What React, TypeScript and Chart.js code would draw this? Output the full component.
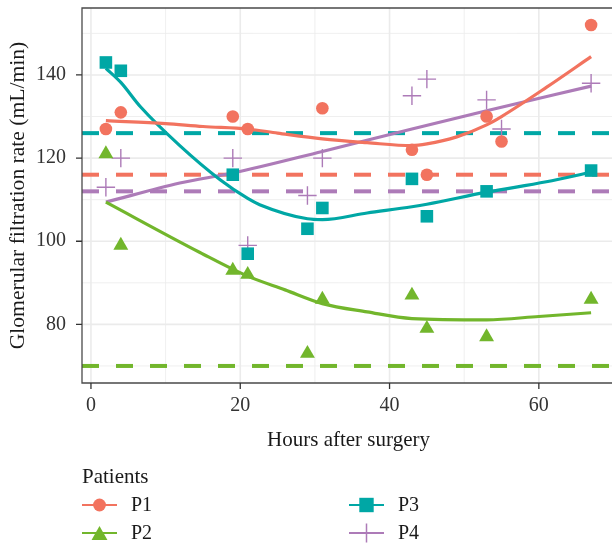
import React, { useEffect, useRef } from 'react';
import { Chart, registerables } from 'chart.js';

Chart.register(...registerables);

// ---------- data ----------
const patients = ['P1', 'P2', 'P3', 'P4'];
const colors = ['#F2735F', '#72B62C', '#00A7A5', '#AD7BB8'];
const markerStyles = ['circle', 'triangle', 'rect', 'cross'];

const hoursP1 = [2, 4, 19, 21, 31, 43, 45, 53, 55, 67];
const gfrP1 = [127, 131, 130, 127, 132, 122, 116, 130, 124, 152];
const hoursP2 = [2, 4, 19, 21, 29, 31, 43, 45, 53, 67];
const gfrP2 = [121, 99, 93, 92, 73, 86, 87, 79, 77, 86];
const hoursP3 = [2, 4, 19, 21, 29, 31, 43, 45, 53, 67];
const gfrP3 = [143, 141, 116, 97, 103, 108, 115, 106, 112, 117];
const hoursP4 = [2, 4, 19, 21, 29, 31, 43, 45, 53, 55, 67];
const gfrP4 = [113, 120, 120, 99, 111, 120, 135, 139, 134, 127, 138];

// fitted (smoothed) curves
const fitHoursP1 = [2, 10, 15, 21, 25, 31, 37, 43, 45, 49, 53, 55, 61, 67];
const fitGfrP1 = [129.0, 128.3, 127.6, 127.0, 126.0, 124.6, 123.7, 123.0, 123.4, 125.1, 128.0, 130.0, 137.0, 144.4];
const fitHoursP2 = [2, 14.6, 21, 26, 31, 37, 43, 53, 60, 67];
const fitGfrP2 = [109.4, 97.3, 91.6, 88.3, 85.0, 83.0, 81.4, 81.1, 81.9, 82.8];
const fitHoursP3 = [2, 4, 6.6, 11.9, 17.3, 21, 22.6, 29, 31, 37, 43, 45, 53, 61, 67];
const fitGfrP3 = [141.6, 138.2, 132.4, 123.0, 114.8, 110.3, 108.8, 105.4, 105.2, 106.8, 108.3, 108.9, 111.8, 114.3, 116.6];
const fitHoursP4 = [2, 11.9, 19, 31, 43, 53, 67];
const fitGfrP4 = [109.4, 114.0, 116.4, 121.6, 127.0, 131.4, 137.3];

// reference (baseline) levels per patient
const baselineGfr = [116, 70, 126, 112];

const xTicks = [0, 20, 40, 60];
const xMinorTicks = [10, 30, 50, 70];
const yTicks = [80, 100, 120, 140];
const yMinorTicks = [70, 90, 110, 130, 150];
const xTitle = 'Hours after surgery';
const yTitle = 'Glomerular filtration rate (mL/min)';
const legendTitle = 'Patients';

const X_MIN = -1.2;
const X_MAX = 69.8;
const Y_MIN = 65.9;
const Y_MAX = 156.1;

const FONT = '"Liberation Serif", "DejaVu Serif", serif';

const pointsByPatient = [
  [hoursP1, gfrP1],
  [hoursP2, gfrP2],
  [hoursP3, gfrP3],
  [hoursP4, gfrP4],
];
const fitsByPatient = [
  [fitHoursP1, fitGfrP1],
  [fitHoursP2, fitGfrP2],
  [fitHoursP3, fitGfrP3],
  [fitHoursP4, fitGfrP4],
];

const zip = (xs: number[], ys: number[]) => xs.map((x, i) => ({ x, y: ys[i] }));

function drawMarker(ctx: CanvasRenderingContext2D, style: string, x: number, y: number, color: string) {
  ctx.save();
  ctx.fillStyle = color;
  ctx.strokeStyle = color;
  if (style === 'circle') {
    ctx.beginPath();
    ctx.arc(x, y, 6.4, 0, Math.PI * 2);
    ctx.fill();
  } else if (style === 'triangle') {
    const r = 9.2;
    ctx.beginPath();
    ctx.moveTo(x, y - r * 0.75);
    ctx.lineTo(x + r * Math.sin((2 * Math.PI) / 3), y + r * 0.75);
    ctx.lineTo(x - r * Math.sin((2 * Math.PI) / 3), y + r * 0.75);
    ctx.closePath();
    ctx.fill();
  } else if (style === 'rect') {
    const s = 7.2;
    ctx.fillRect(x - s, y - s, 2 * s, 2 * s);
  } else {
    ctx.lineWidth = 1.5;
    ctx.beginPath();
    ctx.moveTo(x - 9.5, y);
    ctx.lineTo(x + 9.5, y);
    ctx.moveTo(x, y - 9.5);
    ctx.lineTo(x, y + 9.5);
    ctx.stroke();
  }
  ctx.restore();
}

const panelPlugin = {
  id: 'panel',
  beforeDatasetsDraw(chart: any) {
    const { ctx, chartArea: a, scales } = chart;
    const xs = scales.x;
    const ys = scales.y;
    ctx.save();
    ctx.strokeStyle = '#EBEBEB';
    ctx.lineWidth = 0.8;
    ctx.beginPath();
    xMinorTicks.forEach((v) => {
      const p = xs.getPixelForValue(v);
      if (p >= a.left && p <= a.right) {
        ctx.moveTo(p, a.top);
        ctx.lineTo(p, a.bottom);
      }
    });
    yMinorTicks.forEach((v) => {
      const p = ys.getPixelForValue(v);
      ctx.moveTo(a.left, p);
      ctx.lineTo(a.right, p);
    });
    ctx.stroke();
    ctx.lineWidth = 1.6;
    ctx.beginPath();
    xTicks.forEach((v) => {
      const p = xs.getPixelForValue(v);
      ctx.moveTo(p, a.top);
      ctx.lineTo(p, a.bottom);
    });
    yTicks.forEach((v) => {
      const p = ys.getPixelForValue(v);
      ctx.moveTo(a.left, p);
      ctx.lineTo(a.right, p);
    });
    ctx.stroke();
    ctx.restore();
  },
  afterDraw(chart: any) {
    const { ctx, chartArea: a, scales } = chart;
    const xs = scales.x;
    const ys = scales.y;
    ctx.save();
    // panel border (top, left, bottom)
    ctx.strokeStyle = '#4A4A4A';
    ctx.lineWidth = 1.3;
    ctx.beginPath();
    ctx.moveTo(a.right + 2, a.top);
    ctx.lineTo(a.left, a.top);
    ctx.lineTo(a.left, a.bottom);
    ctx.lineTo(a.right + 2, a.bottom);
    ctx.stroke();
    // tick marks
    ctx.strokeStyle = '#333333';
    ctx.lineWidth = 1.3;
    ctx.beginPath();
    xTicks.forEach((v) => {
      const p = xs.getPixelForValue(v);
      ctx.moveTo(p, a.bottom);
      ctx.lineTo(p, a.bottom + 6);
    });
    yTicks.forEach((v) => {
      const p = ys.getPixelForValue(v);
      ctx.moveTo(a.left, p);
      ctx.lineTo(a.left - 6, p);
    });
    ctx.stroke();

    // axis titles
    ctx.fillStyle = '#1A1A1A';
    ctx.font = `21px ${FONT}`;
    ctx.textAlign = 'center';
    ctx.textBaseline = 'alphabetic';
    ctx.fillText(xTitle, (a.left + 615) / 2, 446);
    ctx.save();
    ctx.font = `21.6px ${FONT}`;
    ctx.translate(24, (a.top + a.bottom) / 2);
    ctx.rotate(-Math.PI / 2);
    ctx.fillText(yTitle, 0, 0);
    ctx.restore();

    // legend
    ctx.textAlign = 'left';
    ctx.font = `21px ${FONT}`;
    ctx.fillText(legendTitle, 82, 483);
    ctx.font = `20px ${FONT}`;
    const cols = [82, 349];
    const rows = [505, 533];
    patients.forEach((name, i) => {
      const col = cols[Math.floor(i / 2)];
      const row = rows[i % 2];
      ctx.strokeStyle = colors[i];
      ctx.lineWidth = 2.2;
      ctx.beginPath();
      ctx.moveTo(col, row);
      ctx.lineTo(col + 35, row);
      ctx.stroke();
      drawMarker(ctx, markerStyles[i], col + 17.5, row, colors[i]);
      ctx.fillStyle = '#1A1A1A';
      ctx.fillText(name, col + 49, row + 5.5);
    });
    ctx.restore();
  },
};

export default function App() {
  const canvasRef = useRef<HTMLCanvasElement | null>(null);

  useEffect(() => {
    document.body.style.margin = '0';
    const canvas = canvasRef.current;
    if (!canvas) return;

    const datasets: any[] = [];
    patients.forEach((name, i) => {
      datasets.push({
        label: name + ' baseline',
        data: [
          { x: X_MIN, y: baselineGfr[i] },
          { x: X_MAX + 5, y: baselineGfr[i] },
        ],
        showLine: true,
        borderColor: colors[i],
        borderWidth: 4,
        borderDash: [17, 17],
        pointRadius: 0,
        order: 3,
      });
      datasets.push({
        label: name + ' fit',
        data: zip(fitsByPatient[i][0], fitsByPatient[i][1]),
        showLine: true,
        borderColor: colors[i],
        borderWidth: 3.2,
        pointRadius: 0,
        cubicInterpolationMode: 'monotone',
        order: 2,
      });
      const style = markerStyles[i];
      datasets.push({
        label: name,
        data: zip(pointsByPatient[i][0], pointsByPatient[i][1]),
        showLine: false,
        pointStyle: style,
        pointRadius: style === 'circle' ? 6.3 : style === 'triangle' ? 8.6 : style === 'rect' ? 8.9 : 9.2,
        pointBackgroundColor: colors[i],
        pointBorderColor: colors[i],
        pointBorderWidth: style === 'cross' ? 1.4 : 0,
        order: 1,
      });
    });

    const zeroPad = (s: any) => {
      s.paddingTop = 0;
      s.paddingBottom = 0;
      s.paddingLeft = 0;
      s.paddingRight = 0;
    };

    const chart = new Chart(canvas, {
      type: 'scatter',
      data: { datasets },
      options: {
        responsive: false,
        animation: false,
        events: [],
        layout: { autoPadding: false, padding: { top: 8, left: 0, right: 0, bottom: 0 } },
        plugins: {
          legend: { display: false },
          tooltip: { enabled: false },
          title: { display: false },
        },
        scales: {
          x: {
            type: 'linear',
            position: 'bottom',
            min: X_MIN,
            max: X_MAX,
            grid: { display: false, drawTicks: false },
            border: { display: false },
            afterBuildTicks: (s: any) => {
              s.ticks = xTicks.map((v) => ({ value: v }));
            },
            afterFit: (s: any) => {
              s.height = 162;
              zeroPad(s);
            },
            ticks: {
              autoSkip: false,
              maxRotation: 0,
              padding: 11,
              color: '#333333',
              font: { family: FONT, size: 20 },
            },
          },
          y: {
            type: 'linear',
            position: 'left',
            min: Y_MIN,
            max: Y_MAX,
            grid: { display: false, drawTicks: false },
            border: { display: false },
            afterBuildTicks: (s: any) => {
              s.ticks = yTicks.map((v) => ({ value: v }));
            },
            afterFit: (s: any) => {
              s.width = 82;
              zeroPad(s);
            },
            ticks: {
              padding: 16,
              color: '#333333',
              font: { family: FONT, size: 20 },
            },
          },
        },
      },
      plugins: [panelPlugin],
    });

    return () => {
      chart.destroy();
    };
  }, []);

  return (
    <div style={{ width: 612, height: 545 }}>
      <canvas ref={canvasRef} width={612} height={545} style={{ display: 'block' }} />
    </div>
  );
}
